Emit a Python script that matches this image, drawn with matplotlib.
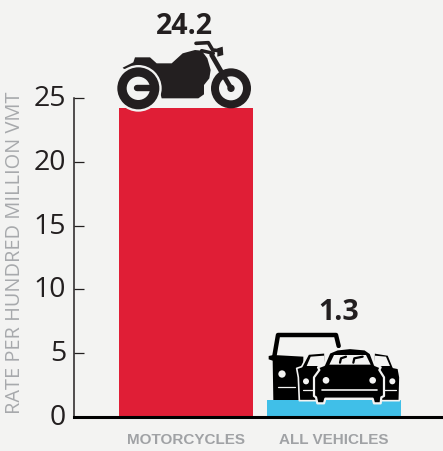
import matplotlib
matplotlib.use('Agg')
import matplotlib.pyplot as plt
from matplotlib.patches import Polygon, Circle
from matplotlib.transforms import ScaledTranslation

W, H = 443, 451
BG = '#f3f3f2'
INK = '#231f20'

categories = ['MOTORCYCLES', 'ALL VEHICLES']
rates = [24.2, 1.3]
bar_colors = ['#e01e36', '#40bfe8']
y_ticks = [0, 5, 10, 15, 20, 25]

fig = plt.figure(figsize=(W / 100, H / 100), dpi=100, facecolor=BG)

def px_box(x0, y0, x1, y1):
    return [x0 / W, 1 - y1 / H, (x1 - x0) / W, (y1 - y0) / H]

ax = fig.add_axes(px_box(74, 98.3, 443, 416.7), facecolor=BG)
ax.bar(range(2), rates, width=0.905, color=bar_colors, zorder=2)
ax.set_xlim(-0.757, 1.736)
ax.set_ylim(0, 25)
for s in ['top', 'right']:
    ax.spines[s].set_visible(False)
ax.spines['left'].set_linewidth(1.1)
ax.spines['left'].set_color(INK)
ax.spines['bottom'].set_linewidth(2.2)
ax.spines['bottom'].set_color('black')
ax.spines['bottom'].set_zorder(3)
ax.set_yticks(y_ticks)
ax.tick_params(axis='y', direction='in', length=7.5, width=0.9, color=INK, pad=5.5,
               labelsize=20.5, labelcolor=INK)
# numbers sit a little above their ticks in the reference
nudge = ScaledTranslation(0, 2.5 / 100, fig.dpi_scale_trans)
for t in ax.get_yticklabels():
    t.set_family('Open Sans')
    t.set_transform(t.get_transform() + nudge)
ax.set_xticks(range(2))
ax.set_xticklabels(categories, family='Liberation Sans', fontweight='bold',
                   fontsize=11, color='#a0a2a5')
ax.tick_params(axis='x', length=0, pad=12)
ax.set_ylabel('RATE PER HUNDRED MILLION VMT', family='Open Sans', fontweight='normal',
              fontsize=14.4, color='#a7a9ac')
ax.yaxis.set_label_coords((25 - 74) / 369, 0.514)

# value labels sit above the icons
ax.text(-0.01, rates[0] + 6.45, f'{rates[0]}', ha='center', va='center', family='Open Sans',
        fontweight='bold', fontsize=20.5, color=INK, clip_on=False)
ax.text(1.03, rates[1] + 6.85, f'{rates[1]}', ha='center', va='center', family='Open Sans',
        fontweight='bold', fontsize=20.5, color=INK, clip_on=False)

# overlay in pixel coordinates for the two pictograms
ov = fig.add_axes([0, 0, 1, 1], facecolor='none')
ov.set_xlim(0, W)
ov.set_ylim(H, 0)
ov.axis('off')


def poly(pts, org, color='black', z=5, **kw):
    p = [(org[0] + x / 3, org[1] + y / 3) for x, y in pts]
    ov.add_patch(Polygon(p, closed=True, facecolor=color, edgecolor=kw.pop('ec', 'none'),
                         zorder=z, joinstyle='round', **kw))


def line(pts, org, color='black', lw=2, z=5):
    ov.plot([org[0] + x / 3 for x, y in pts], [org[1] + y / 3 for x, y in pts],
            color=color, lw=lw, zorder=z, solid_capstyle='round', solid_joinstyle='round')


def dot(x, y, r, org, color='black', z=5):
    ov.add_patch(Circle((org[0] + x / 3, org[1] + y / 3), r / 3, facecolor=color,
                        edgecolor='none', zorder=z))


# motorcycle
m = (100, 0)
poly([(68, 203), (100, 187), (105, 172), (150, 172), (170, 190), (215, 190), (248, 160),
      (285, 150), (305, 152), (322, 175), (332, 210), (328, 235), (312, 255), (312, 283),
      (295, 295), (185, 295), (170, 240), (115, 200), (72, 207)], m, INK)
dot(115, 265, 70, m, BG, 6)
dot(115, 265, 63, m, INK, 7)
dot(115, 265, 35, m, BG, 8)
line([(112, 265), (150, 265)], m, INK, 4.6, 9)
dot(393, 265, 60, m, INK, 7)
dot(393, 265, 36, m, BG, 8)
dot(393, 265, 11, m, INK, 9)
line([(335, 165), (393, 265)], m, INK, 3.4, 9)
line([(288, 130), (325, 128), (338, 150), (358, 152)], m, INK, 2.6)
poly([(352, 145), (368, 140), (370, 165), (352, 170)], m, INK)
line([(305, 152), (340, 160)], m, INK, 2.5)

# cars: van behind
c = (250, 290)
line([(72, 205), (84, 135), (258, 135), (266, 168)], c, 'black', 3.2)
poly([(56, 198), (70, 195), (160, 200), (160, 330), (115, 330), (70, 330), (68, 212), (56, 208)], c)
dot(96, 252, 11, c, BG, 6)
line([(85, 292), (136, 292)], c, BG, 0.9, 6)

# left and right small cars
for pts, win, light, grille in [
    ([(140, 235), (155, 230), (175, 192), (225, 188), (225, 332), (165, 332), (148, 332), (145, 262)],
     [(170, 228), (182, 200), (222, 197), (222, 228)], (168, 274), [(158, 300), (200, 300)]),
    ([(445, 235), (430, 232), (415, 195), (372, 188), (372, 332), (430, 332), (448, 332), (450, 262)],
     [(420, 228), (408, 200), (375, 197), (375, 228)], (427, 274), [(400, 300), (438, 300)]),
]:
    poly(pts, c, z=7, ec=BG, lw=1.2)
    poly(win, c, BG, z=8)
    dot(light[0], light[1], 9, c, BG, 8)
    line(grille, c, BG, 0.9, 8)

# front car
poly([(204, 232), (222, 225), (238, 188), (262, 178), (300, 174), (345, 178), (362, 190),
      (375, 225), (392, 232), (388, 240), (402, 262), (402, 318), (394, 322), (392, 340),
      (372, 340), (368, 326), (226, 326), (222, 340), (202, 340), (198, 322), (192, 318),
      (192, 262), (208, 240)], c, z=9, ec=BG, lw=1.6)
poly([(238, 224), (252, 195), (348, 195), (362, 224)], c, BG, z=10)
line([(270, 218), (273, 205), (288, 200)], c, 'black', 1.6, 11)
line([(310, 218), (313, 205), (338, 200)], c, 'black', 1.6, 11)
dot(228, 271, 10, c, BG, 10)
dot(368, 271, 10, c, BG, 10)
line([(217, 301), (380, 301)], c, BG, 1.2, 10)

fig.savefig('out.png', dpi=100, facecolor=BG)
